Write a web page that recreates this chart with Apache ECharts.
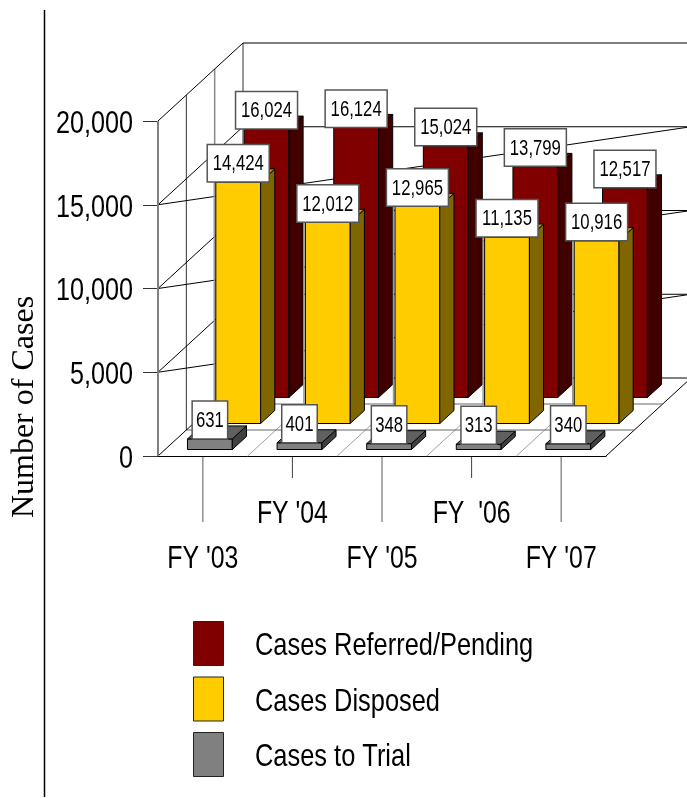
<!DOCTYPE html>
<html>
<head>
<meta charset="utf-8">
<style>html,body{margin:0;padding:0;background:#fff;overflow:hidden}#c{width:687px;height:798px}</style>
<script src="https://cdn.jsdelivr.net/npm/echarts@6/dist/echarts.min.js"></script>
</head>
<body>
<div id="c"></div>
<script>
const categories = ["FY '03", "FY '04", "FY '05", "FY  '06", "FY '07"];
const seriesNames = ['Cases Referred/Pending', 'Cases Disposed', 'Cases to Trial'];
const referred = [16024, 16124, 15024, 13799, 12517];
const disposed = [14424, 12012, 12965, 11135, 10916];
const trial = [631, 401, 348, 313, 340];
const yTicks = [0, 5000, 10000, 15000, 20000];

const SANS = '"Liberation Sans",Arial,sans-serif';
const DX = 85, DY = -78, SLOTS = 3;
const slotX = DX / SLOTS, slotY = DY / SLOTS;

function line(x1, y1, x2, y2, stroke, w) {
  return { type: 'line', shape: { x1, y1, x2, y2 }, style: { stroke, lineWidth: w || 1 }, silent: true };
}
function squeezed(text, x, y, size, sx, align) {
  return { type: 'text', x, y, scaleX: sx, silent: true,
    style: { text, x: 0, y: 0, align, verticalAlign: 'middle', font: size + 'px ' + SANS, fill: '#000' } };
}

function renderWalls(params, api) {
  const bandW = api.size([1, 0])[0];
  const leftX = api.coord([0, 0])[0] - bandW / 2;
  const rightX = leftX + bandW * categories.length;
  const y0 = api.coord([0, 0])[1];
  const yTop = api.coord([0, yTicks[yTicks.length - 1]])[1];
  const c = [];
  for (let k = 1; k <= categories.length; k++) {
    const x = leftX + bandW * k;
    c.push(line(x, y0, x + DX, y0 + DY, k === categories.length ? '#000' : '#a0a0a0'));
  }
  for (let s = 1; s <= SLOTS; s++) {
    const dx = slotX * s, dy = slotY * s;
    c.push(line(leftX + dx, y0 + dy, rightX + dx, y0 + dy, s === SLOTS ? '#000' : '#666'));
    c.push(line(leftX + dx, y0 + dy, leftX + dx, yTop + dy, s === 2 ? '#888' : '#333', s === 2 ? 1.5 : 1));
  }
  yTicks.forEach(function (t) {
    const y = api.coord([0, t])[1];
    c.push(line(leftX, y, leftX + DX, y + DY, '#000'));
    if (t > 0) c.push(line(leftX + DX, y + DY, rightX + DX, y + DY, '#000'));
    if (t > 0 && t < yTicks[yTicks.length - 1]) c.push(line(leftX, y, rightX + DX, y + DY, '#000'));
    c.push(squeezed(t.toLocaleString('en-US'), leftX - 25, y + 3, 32, 0.787, 'right'));
  });
  c.push(line(leftX, y0, leftX, yTop, '#808080', 2));
  categories.forEach(function (n, i) {
    const x = api.coord([i, 0])[0];
    c.push(line(x, y0 + 1, x, y0 + (i % 2 ? 22 : 66), i % 2 ? '#404040' : '#909090', i % 2 ? 1 : 1.5));
    c.push(squeezed(n, x, y0 + (i % 2 ? 58 : 103), 32, 0.776, 'center'));
  });
  return { type: 'group', children: c };
}

function barRenderer(slot, front, side, top, edge) {
  return function (params, api) {
    const p = api.coord([api.value(0), api.value(1)]);
    const base = api.coord([api.value(0), 0]);
    const w = api.size([1, 0])[0] / 2;
    const ox = slotX * (slot + 0.25), oy = slotY * (slot + 0.25);
    const dx = slotX / 2, dy = slotY / 2;
    const xL = p[0] - w / 2 + ox, xR = xL + w;
    const yT = p[1] + oy, yB = base[1] + oy;
    const st = function (fill) { return { fill, stroke: '#000', lineWidth: 1 }; };
    const txt = api.value(1).toLocaleString('en-US');
    const boxW = txt.length > 3 ? 62 : 35.5;
    const boxH = txt.length > 3 ? 37.5 : 38;
    const cx = (xL + xR) / 2;
    const children = [
      { type: 'polygon', shape: { points: [[xL, yT], [xR, yT], [xR, yB], [xL, yB]] }, style: st(front) },
      { type: 'polygon', shape: { points: [[xR, yT], [xR + dx, yT + dy], [xR + dx, yB + dy], [xR, yB]] }, style: st(side) },
      { type: 'polygon', shape: { points: [[xL, yT], [xL + dx, yT + dy], [xR + dx, yT + dy], [xR, yT]] }, style: st(top) },
      { type: 'rect', z2: 100, shape: { x: cx - boxW / 2, y: yT - boxH, width: boxW, height: boxH },
        style: { fill: '#fff', stroke: '#555', lineWidth: 1.5 } },
      Object.assign(squeezed(txt, cx, yT - boxH / 2 + 1, 22, 0.76, 'center'), { z2: 101 })
    ];
    if (edge) children.unshift(line(xL - 1.5, yT, xL - 1.5, yB - 19.5, edge, 1.5));
    return { type: 'group', children };
  };
}

function pairs(arr) { return arr.map(function (v, i) { return [i, v]; }); }

const chart = echarts.init(document.getElementById('c'), null, { renderer: 'canvas' });
chart.setOption({
  animation: false,
  backgroundColor: '#fff',
  grid: { left: 158, top: 121, width: 448, height: 335 },
  xAxis: {
    type: 'category', data: categories,
    axisLine: { show: true, lineStyle: { color: '#000', width: 1 } },
    axisTick: { show: false },
    axisLabel: { show: false }
  },
  yAxis: {
    type: 'value', min: 0, max: 20000, interval: 5000,
    splitLine: { show: false },
    axisLine: { show: false },
    axisTick: { show: true, length: 15, lineStyle: { color: '#333', width: 1 } },
    axisLabel: { show: false }
  },
  legend: {
    orient: 'vertical', left: 193, top: 621, padding: 0, itemWidth: 30, itemHeight: 44, itemGap: 10.5,
    icon: 'rect', selectedMode: false,
    itemStyle: { borderColor: '#222', borderWidth: 1 },
    formatter: function () { return ''; },
    data: seriesNames
  },
  series: [
    { name: 'walls', type: 'custom', z: 1, silent: true, clip: false, renderItem: renderWalls, data: [[0, 0]], encode: { x: 0, y: 1 } },
    { name: seriesNames[0], type: 'custom', z: 2, clip: false, itemStyle: { color: '#800000' },
      renderItem: barRenderer(2, '#800000', '#400000', '#600000'), data: pairs(referred), encode: { x: 0, y: 1 } },
    { name: seriesNames[1], type: 'custom', z: 3, clip: false, itemStyle: { color: '#ffcc00' },
      renderItem: barRenderer(1, '#ffcc00', '#806600', '#bf9900', '#999'), data: pairs(disposed), encode: { x: 0, y: 1 } },
    { name: seriesNames[2], type: 'custom', z: 4, clip: false, itemStyle: { color: '#808080' },
      renderItem: barRenderer(0, '#808080', '#404040', '#606060'), data: pairs(trial), encode: { x: 0, y: 1 } }
  ],
  graphic: [
    { type: 'line', shape: { x1: 44.5, y1: 10, x2: 44.5, y2: 797 }, style: { stroke: '#000', lineWidth: 1.5 } },
    { type: 'text', x: 25, y: 407, rotation: Math.PI / 2,
      style: { text: 'Number of Cases', font: '32px "Liberation Serif","Times New Roman",serif', fill: '#000', align: 'center', verticalAlign: 'middle' } }
  ].concat(seriesNames.map(function (n, i) {
    return { type: 'text', x: 255, y: 646 + 55 * i + (i ? 1 : 0), scaleX: 0.794,
      style: { text: n, x: 0, y: 0, font: '32px ' + SANS, fill: '#000', align: 'left', verticalAlign: 'middle' } };
  }))
});
</script>
</body>
</html>
